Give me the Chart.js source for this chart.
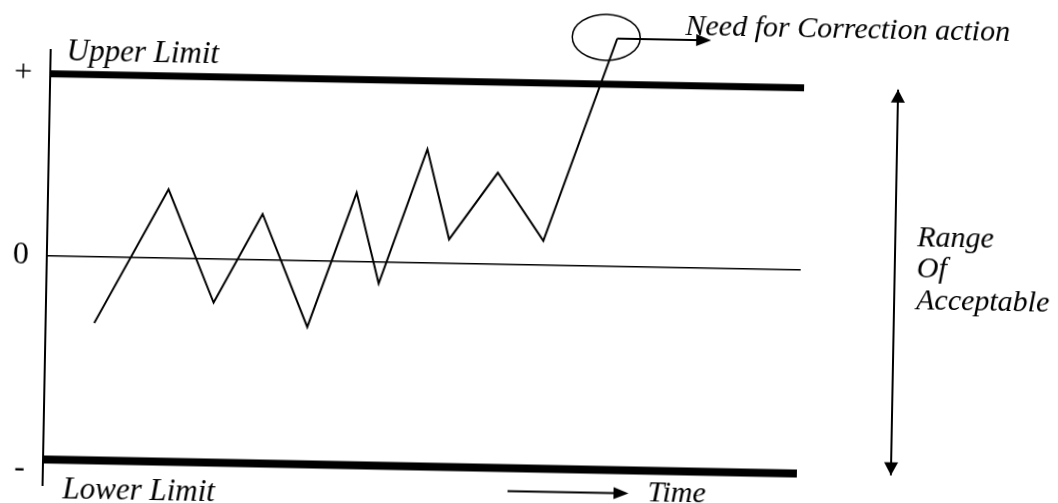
<!DOCTYPE html>
<html>
<head>
<meta charset="utf-8">
<script src="https://cdn.jsdelivr.net/npm/chart.js@4/dist/chart.umd.min.js"></script>
<style>
  body { margin: 0; overflow: hidden; background: #fff; width: 1058px; height: 503px; }
  /* the scan is tilted a little, so the whole sheet is turned the same way */
  #sheet { position: absolute; left: -30px; top: -30px; width: 1118px; height: 563px; transform: rotate(1.07deg); }
</style>
</head>
<body>
<div id="sheet"><canvas id="kontrolle" width="1118" height="563"></canvas></div>
<script>
// control chart data
const time = [6.45, 15.98, 22.23, 28.51, 34.71, 40.93, 44.07, 50.2, 53.3, 59.6, 65.8, 75.1];
const deviation = [-36.5, 37.7, -24.1, 25.1, -36.5, 37.8, -11.9, 62.4, 13.1, 50.2, 13.3, 125.1];
const upperLimit = 100;
const centreLine = 0;
const lowerLimit = -112;
const tickValues = [100, 0, -117];
const tickLabels = ['+', '0', '-'];
const timeRange = [0, 100];

const serif = '"Liberation Serif", "Times New Roman", serif';

function flat(v) {
  return timeRange.map(function(t) { return { x: t, y: v }; });
}

function arrow(ctx, x1, y1, x2, y2, len, half) {
  const a = Math.atan2(y2 - y1, x2 - x1);
  ctx.beginPath();
  ctx.moveTo(x1, y1);
  ctx.lineTo(x2 - Math.cos(a) * len * 0.8, y2 - Math.sin(a) * len * 0.8);
  ctx.stroke();
  ctx.beginPath();
  ctx.moveTo(x2, y2);
  ctx.lineTo(x2 - Math.cos(a) * len - Math.sin(a) * half, y2 - Math.sin(a) * len + Math.cos(a) * half);
  ctx.lineTo(x2 - Math.cos(a) * len + Math.sin(a) * half, y2 - Math.sin(a) * len - Math.cos(a) * half);
  ctx.closePath();
  ctx.fill();
}

const notes = {
  id: 'notes',
  afterDraw: function(chart) {
    const ctx = chart.ctx;
    const area = chart.chartArea;
    const y = chart.scales.y;
    const yUp = y.getPixelForValue(upperLimit);
    const yZero = y.getPixelForValue(centreLine);
    const yLow = y.getPixelForValue(lowerLimit);
    const peak = chart.getDatasetMeta(3).data[time.length - 1];

    ctx.save();
    ctx.fillStyle = '#000';
    ctx.strokeStyle = '#000';
    ctx.textAlign = 'left';
    ctx.textBaseline = 'alphabetic';

    ctx.font = 'italic 31px ' + serif;
    ctx.fillText('Upper Limit', area.left + 16, yUp - 14);
    ctx.fillText('Lower Limit', area.left + 20, yLow + 38);

    ctx.font = 'italic 30px ' + serif;
    // time arrow
    ctx.lineWidth = 2;
    arrow(ctx, area.left + 465, yLow + 23, area.left + 586, yLow + 23, 15, 6);
    ctx.fillText('Time', area.left + 605, yLow + 30);

    // range of acceptable
    const xr = area.right + 94;
    arrow(ctx, xr, yLow, xr, yUp, 13, 7);
    arrow(ctx, xr, yUp, xr, yLow, 13, 7);
    ctx.fillText('Range', xr + 22, yZero - 26);
    ctx.fillText('Of', xr + 22, yZero + 5);
    ctx.fillText('Acceptable', xr + 22, yZero + 37);

    // out of control point
    ctx.lineWidth = 1.5;
    ctx.beginPath();
    ctx.ellipse(peak.x - 11, peak.y - 1, 34, 23, 0, 0, Math.PI * 2);
    ctx.stroke();
    ctx.lineWidth = 2;
    arrow(ctx, peak.x, peak.y, peak.x + 94, peak.y, 15, 6);
    ctx.fillText('Need for Correction action', peak.x + 68, peak.y - 5);
    ctx.restore();
  }
};

new Chart(document.getElementById('kontrolle').getContext('2d'), {
  type: 'line',
  data: {
    datasets: [
      { label: 'Upper Limit', data: flat(upperLimit), borderColor: '#000', borderWidth: 7, borderCapStyle: 'butt', pointRadius: 0 },
      { label: 'Centre', data: flat(centreLine), borderColor: '#000', borderWidth: 1.5, borderCapStyle: 'butt', pointRadius: 0 },
      { label: 'Lower Limit', data: flat(lowerLimit), borderColor: '#000', borderWidth: 8, borderCapStyle: 'butt', pointRadius: 0 },
      {
        label: 'Process',
        data: time.map(function(t, i) { return { x: t, y: deviation[i] }; }),
        borderColor: '#000',
        borderWidth: 2,
        pointRadius: 0,
        tension: 0,
        clip: false
      }
    ]
  },
  options: {
    responsive: false,
    animation: false,
    devicePixelRatio: 1,
    layout: { padding: { top: 89, right: 287, bottom: 39, left: 0 } },
    scales: {
      x: { type: 'linear', min: timeRange[0], max: timeRange[1], display: false },
      y: {
        min: -126,
        max: 113,
        afterFit: function(scale) { scale.width = 77; },
        afterBuildTicks: function(scale) {
          scale.ticks = tickValues.map(function(v) { return { value: v }; });
        },
        grid: { display: false, drawTicks: false },
        border: { display: true, color: '#000', width: 2 },
        ticks: {
          padding: 18,
          color: '#000',
          font: { family: serif, size: 32 },
          callback: function(value) { return tickLabels[tickValues.indexOf(value)]; }
        }
      }
    },
    plugins: {
      legend: { display: false },
      tooltip: { enabled: false }
    }
  },
  plugins: [notes]
});
</script>
</body>
</html>
